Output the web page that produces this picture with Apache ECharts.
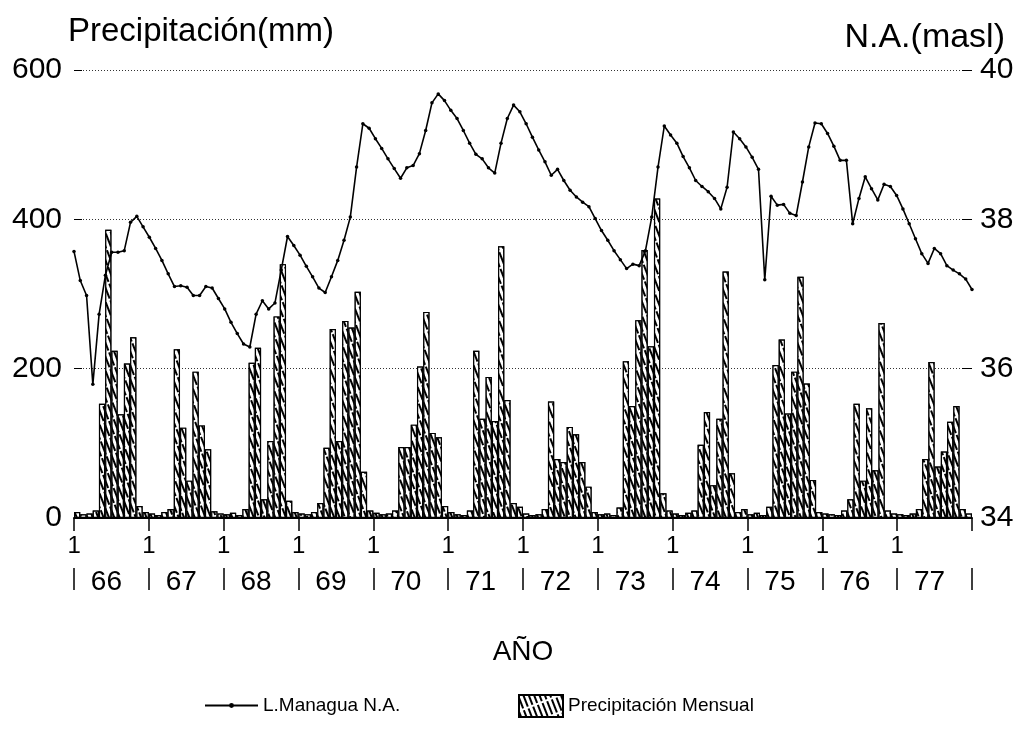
<!DOCTYPE html>
<html>
<head>
<meta charset="utf-8">
<script src="https://cdn.jsdelivr.net/npm/echarts@6/dist/echarts.min.js"></script>
<style>html,body{margin:0;padding:0;background:#fff}#c{width:1024px;height:732px}</style>
</head>
<body>
<div id="c"></div>
<script>
// ---- data ----
const years = ['66','67','68','69','70','71','72','73','74','75','76','77'];
const monthTickLabel = '1';
// monthly precipitation (mm), Jan..Dec
const p66 = [8, 5, 6, 10, 153, 386, 224, 139, 207, 242, 16, 8];
const p67 = [6, 4, 8, 12, 226, 121, 50, 196, 124, 92, 9, 6];
const p68 = [5, 7, 4, 12, 208, 228, 25, 103, 270, 340, 23, 8];
const p69 = [6, 5, 8, 20, 94, 253, 103, 264, 255, 303, 62, 10];
const p70 = [7, 5, 6, 10, 95, 95, 125, 203, 276, 114, 108, 16];
const p71 = [8, 5, 4, 10, 224, 133, 189, 130, 364, 158, 20, 15];
const p72 = [6, 4, 5, 12, 156, 79, 75, 122, 112, 75, 42, 8];
const p73 = [5, 6, 4, 14, 210, 150, 265, 359, 230, 428, 33, 10];
const p74 = [6, 4, 7, 10, 98, 142, 44, 133, 330, 60, 8, 12];
const p75 = [5, 7, 4, 15, 205, 239, 140, 196, 323, 180, 51, 8];
const p76 = [6, 5, 4, 10, 25, 153, 50, 147, 64, 261, 10, 6];
const p77 = [5, 4, 6, 12, 79, 209, 69, 89, 129, 150, 12, 6];
// Lake Managua level (masl), monthly
const n66 = [37.57, 37.18, 36.98, 35.79, 36.73, 37.25, 37.56, 37.56, 37.58, 37.96, 38.04, 37.90];
const n67 = [37.76, 37.61, 37.45, 37.27, 37.10, 37.11, 37.09, 36.98, 36.98, 37.10, 37.08, 36.94];
const n68 = [36.80, 36.62, 36.47, 36.33, 36.29, 36.73, 36.91, 36.80, 36.88, 37.32, 37.77, 37.65];
const n69 = [37.52, 37.37, 37.23, 37.08, 37.02, 37.23, 37.45, 37.72, 38.03, 38.70, 39.28, 39.22];
const n70 = [39.08, 38.95, 38.81, 38.68, 38.55, 38.69, 38.72, 38.88, 39.19, 39.56, 39.68, 39.59];
const n71 = [39.46, 39.35, 39.19, 39.02, 38.87, 38.81, 38.69, 38.62, 39.02, 39.35, 39.53, 39.44];
const n72 = [39.28, 39.10, 38.93, 38.77, 38.59, 38.67, 38.52, 38.39, 38.30, 38.23, 38.17, 38.01];
const n73 = [37.85, 37.72, 37.58, 37.46, 37.34, 37.40, 37.38, 37.58, 38.03, 38.70, 39.25, 39.13];
const n74 = [39.02, 38.84, 38.69, 38.52, 38.44, 38.37, 38.28, 38.14, 38.43, 39.17, 39.08, 38.97];
const n75 = [38.83, 38.67, 37.19, 38.31, 38.19, 38.20, 38.08, 38.05, 38.50, 38.97, 39.29, 39.28];
const n76 = [39.15, 38.98, 38.79, 38.79, 37.94, 38.28, 38.57, 38.41, 38.26, 38.47, 38.44, 38.32];
const n77 = [38.14, 37.94, 37.74, 37.54, 37.41, 37.61, 37.54, 37.38, 37.32, 37.27, 37.20, 37.06];
const leftTicks = {min: 0, max: 600, interval: 200};
const rightTicks = {min: 34, max: 40, interval: 2};

// ---- build ----
const precip = [].concat(p66, p67, p68, p69, p70, p71, p72, p73, p74, p75, p76, p77);
const level = [].concat(n66, n67, n68, n69, n70, n71, n72, n73, n74, n75, n76, n77);
const months = [];
years.forEach(y => { for (let m = 1; m <= 12; m++) months.push(y + '-' + m); });

const FONT = "'Liberation Sans', Arial, sans-serif";

const hatch = {
  symbol: 'rect', symbolSize: 1, color: '#000', backgroundColor: '#fff',
  dashArrayX: [14, 2], dashArrayY: [1.9, 2.6], rotation: 1.2
};

const chart = echarts.init(document.getElementById('c'), null, {renderer: 'canvas'});
chart.setOption({
  animation: false,
  backgroundColor: '#fff',
  textStyle: {fontFamily: FONT, color: '#000'},
  grid: {left: 74, right: 52, top: 70, bottom: 214},
  legend: [
    {data: ['L.Managua N.A.'], left: 199, top: 691, itemWidth: 53, itemHeight: 6, itemGap: 0,
     textStyle: {fontFamily: FONT, fontSize: 19, color: '#000'}},
    {data: [{name: 'Precipitación Mensual', icon: 'rect'}], left: 513, top: 689, itemWidth: 44, itemHeight: 22,
     textStyle: {fontFamily: FONT, fontSize: 19, color: '#000'}}
  ],
  xAxis: [
    {type: 'category', data: months, boundaryGap: true, z: 4,
     axisLine: {lineStyle: {color: '#000', width: 2}},
     axisTick: {interval: 0, inside: true, length: 9, lineStyle: {color: '#000', width: 1.5}},
     axisLabel: {interval: 11, formatter: () => monthTickLabel, fontSize: 24, color: '#000',
                 margin: 16, padding: [0, 6, 0, 0], fontFamily: FONT},
     splitLine: {show: false}},
    {type: 'category', data: months, boundaryGap: false, show: false},
    {type: 'category', data: years, boundaryGap: true, position: 'bottom', offset: 0,
     axisLine: {show: false},
     axisTick: {show: true, length: 13, lineStyle: {color: '#000', width: 1.5}},
     axisLabel: {show: false}},
    {type: 'category', data: years, boundaryGap: true, position: 'bottom', offset: 50,
     axisLine: {show: false},
     axisTick: {show: true, length: 22, lineStyle: {color: '#000', width: 1.5}},
     axisLabel: {fontSize: 28, margin: 0, color: '#000', padding: [0, 10, 0, 0], fontFamily: FONT},
     name: 'AÑO', nameLocation: 'middle', nameGap: 70,
     nameTextStyle: {fontSize: 28, color: '#000', fontFamily: FONT}}
  ],
  yAxis: [
    {type: 'value', min: leftTicks.min, max: leftTicks.max, interval: leftTicks.interval, position: 'left',
     axisLine: {show: false},
     axisTick: {show: true, inside: true, length: 8, lineStyle: {color: '#000'}},
     axisLabel: {fontSize: 30, margin: 12, color: '#000', fontFamily: FONT},
     splitLine: {lineStyle: {color: '#333', type: [1, 2], width: 1}},
     name: 'Precipitación(mm)', nameLocation: 'end', nameGap: 38,
     nameTextStyle: {fontSize: 33, align: 'left', verticalAlign: 'middle', color: '#000',
                     padding: [0, 0, 0, -6], fontFamily: FONT}},
    {type: 'value', min: rightTicks.min, max: rightTicks.max, interval: rightTicks.interval, position: 'right',
     axisLine: {show: false},
     axisTick: {show: true, inside: true, length: 10, lineStyle: {color: '#000'}},
     axisLabel: {fontSize: 30, margin: 8, color: '#000', fontFamily: FONT},
     splitLine: {show: false},
     name: 'N.A.(masl)', nameLocation: 'end', nameGap: 23,
     nameTextStyle: {fontSize: 34, align: 'right', verticalAlign: 'middle', color: '#000',
                     padding: [0, -33, 0, 0], fontFamily: FONT}}
  ],
  series: [
    {type: 'bar', name: 'Precipitación Mensual', xAxisIndex: 0, yAxisIndex: 0, data: precip,
     barCategoryGap: '0%',
     itemStyle: {color: '#fff', borderColor: '#000', borderWidth: 1.2, decal: hatch}},
    {type: 'line', name: 'L.Managua N.A.', xAxisIndex: 1, yAxisIndex: 1, data: level,
     symbol: 'circle', symbolSize: 3.5, showSymbol: true,
     lineStyle: {color: '#000', width: 1.6}, itemStyle: {color: '#000'}, z: 5}
  ]
});
</script>
</body>
</html>
